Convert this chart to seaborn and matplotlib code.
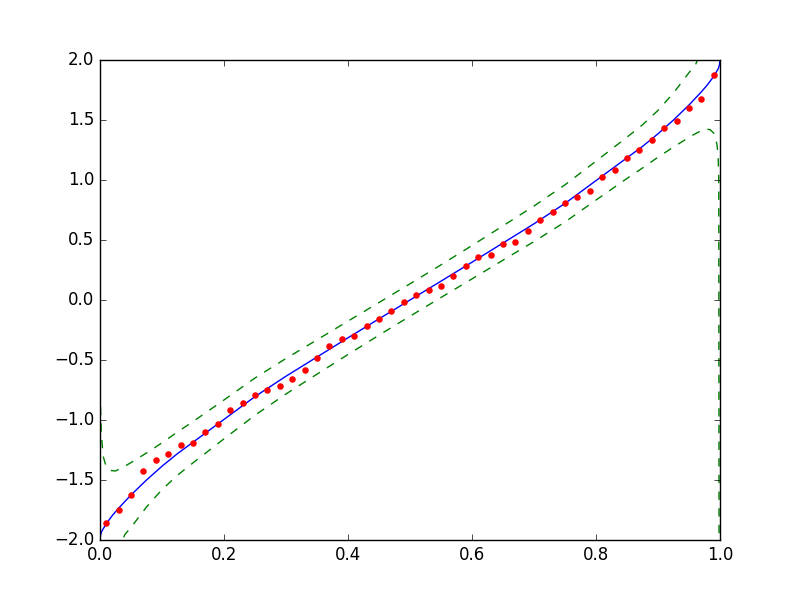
import matplotlib
matplotlib.use("Agg")
import matplotlib.pyplot as plt
import seaborn as sns
import pandas as pd

plt.style.use("classic")
plt.rcParams["font.family"] = ["DejaVu Sans"]

# ---- data ----
pt_x = [0.01, 0.03, 0.05, 0.07, 0.09, 0.11, 0.13, 0.15, 0.17, 0.19,
        0.21, 0.23, 0.25, 0.27, 0.29, 0.31, 0.33, 0.35, 0.37, 0.39,
        0.41, 0.43, 0.45, 0.47, 0.49, 0.51, 0.53, 0.55, 0.57, 0.59,
        0.61, 0.63, 0.65, 0.67, 0.69, 0.71, 0.73, 0.75, 0.77, 0.79,
        0.81, 0.83, 0.85, 0.87, 0.89, 0.91, 0.93, 0.95, 0.97, 0.99]
pt_y = [-1.86, -1.75, -1.625, -1.425, -1.333, -1.286, -1.21, -1.195, -1.10, -1.03,
        -0.917, -0.86, -0.794, -0.75, -0.72, -0.66, -0.58, -0.486, -0.386, -0.328,
        -0.30, -0.217, -0.161, -0.089, -0.014, 0.039, 0.083, 0.114, 0.197, 0.283,
        0.356, 0.375, 0.464, 0.48, 0.572, 0.667, 0.736, 0.806, 0.857, 0.906,
        1.022, 1.08, 1.18, 1.253, 1.33, 1.43, 1.49, 1.597, 1.672, 1.872]

fit_x = [0.0, 0.001, 0.003, 0.01, 0.02, 0.03, 0.05, 0.075, 0.1, 0.125, 0.15, 0.2,
         0.25, 0.3, 0.35, 0.4, 0.45, 0.5, 0.55, 0.6, 0.65, 0.7, 0.75, 0.8,
         0.85, 0.875, 0.9, 0.925, 0.95, 0.97, 0.98, 0.99, 0.997, 0.999, 1.0]
fit_y = [-2.0, -1.957, -1.926, -1.865, -1.795, -1.735, -1.625, -1.50, -1.385, -1.28, -1.185, -0.995,
         -0.805, -0.635, -0.475, -0.315, -0.157, 0.0, 0.157, 0.315, 0.475, 0.635, 0.805, 0.995,
         1.185, 1.28, 1.385, 1.50, 1.625, 1.735, 1.795, 1.865, 1.926, 1.957, 2.0]

up_x = [0.0, 0.002, 0.005, 0.01, 0.016, 0.025, 0.04, 0.05, 0.075, 0.1, 0.125, 0.15, 0.2,
        0.25, 0.3, 0.35, 0.4, 0.45, 0.5, 0.55, 0.6, 0.65, 0.7, 0.75, 0.8,
        0.85, 0.875, 0.9, 0.925, 0.95, 0.96, 0.97, 0.98, 0.99, 1.0]
up_y = [-0.75, -1.10, -1.30, -1.39, -1.42, -1.425, -1.385, -1.355, -1.275, -1.19, -1.10, -1.013, -0.833,
        -0.65, -0.487, -0.332, -0.176, -0.021, 0.135, 0.293, 0.454, 0.618, 0.783, 0.96, 1.157,
        1.357, 1.46, 1.58, 1.725, 1.895, 1.955, 2.075, 2.175, 2.5, 4.0]

lo_x = [0.0, 0.01, 0.02, 0.03, 0.04, 0.05, 0.075, 0.1, 0.125, 0.15, 0.2,
        0.25, 0.3, 0.35, 0.4, 0.45, 0.5, 0.55, 0.6, 0.65, 0.7, 0.75, 0.8,
        0.85, 0.875, 0.9, 0.925, 0.95, 0.96, 0.975, 0.984, 0.99, 0.995, 0.997, 0.998, 0.9985, 1.0]
lo_y = [-4.0, -2.5, -2.175, -2.075, -1.955, -1.895, -1.725, -1.58, -1.46, -1.357, -1.157,
        -0.96, -0.783, -0.618, -0.454, -0.293, -0.135, 0.021, 0.176, 0.332, 0.487, 0.65, 0.833,
        1.013, 1.10, 1.19, 1.275, 1.355, 1.385, 1.425, 1.42, 1.39, 1.30, 1.20, 1.0, -2.5, -4.0]

fig = plt.figure(figsize=(8, 6), dpi=100, facecolor="white")
ax = fig.add_subplot(111)
ax.set_facecolor("white")

dash = (0, (6, 6))
sns.lineplot(x=up_x, y=up_y, ax=ax, color="g", linewidth=1.0, sort=False,
             estimator=None, linestyle="--", dashes=False)
sns.lineplot(x=lo_x, y=lo_y, ax=ax, color="g", linewidth=1.0, sort=False,
             estimator=None, linestyle="--", dashes=False)
for ln in ax.get_lines():
    ln.set_linestyle(dash)
sns.lineplot(x=fit_x, y=fit_y, ax=ax, color="b", linewidth=1.0, sort=False,
             estimator=None)
sns.scatterplot(x=pt_x, y=pt_y, ax=ax, color="r", s=22, linewidth=0, zorder=3)

ax.set_xlim(0, 1)
ax.set_ylim(-2, 2)
ax.set_xticks([0.0, 0.2, 0.4, 0.6, 0.8, 1.0])
ax.set_yticks([-2.0, -1.5, -1.0, -0.5, 0.0, 0.5, 1.0, 1.5, 2.0])
ax.tick_params(direction="in", top=True, right=True, labelsize=12)
ax.set_xlabel("")
ax.set_ylabel("")

fig.savefig("out.png", dpi=100, facecolor="white")
